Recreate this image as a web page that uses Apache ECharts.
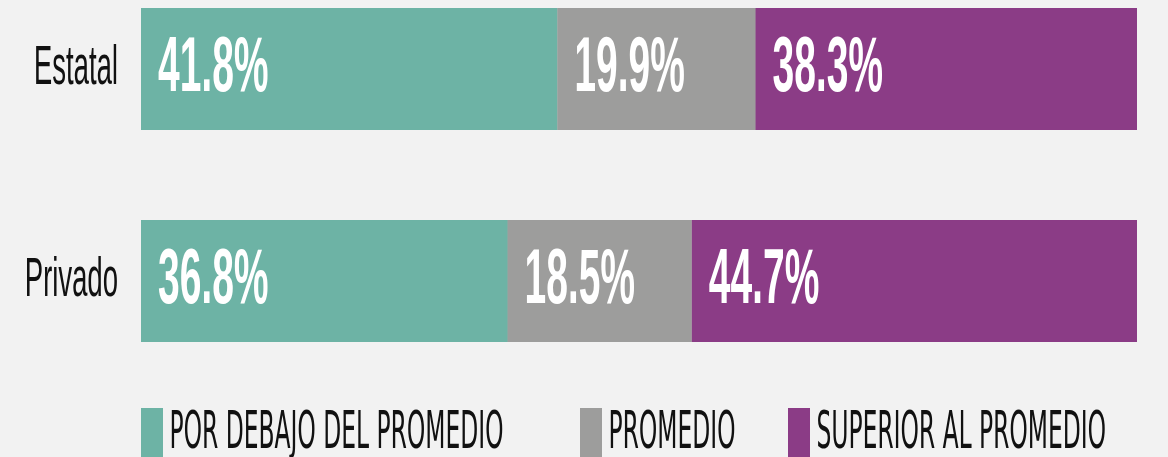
<!DOCTYPE html>
<html>
<head>
<meta charset="utf-8">
<script src="https://cdn.jsdelivr.net/npm/echarts@6/dist/echarts.min.js"></script>
<style>
  html, body { margin: 0; padding: 0; background: #f2f2f2; overflow: hidden; }
  /* la tipografía del original es muy condensada: se dibuja al doble de ancho y se comprime */
  #main { width: 2336px; height: 457px; transform: scaleX(0.5); transform-origin: 0 0; }
</style>
</head>
<body>
<div id="main"></div>
<script>
// Datos del gráfico
var categorias = ['Estatal', 'Privado'];
var series = ['POR DEBAJO DEL PROMEDIO', 'PROMEDIO', 'SUPERIOR AL PROMEDIO'];
var debajo = [41.8, 36.8];
var promedio = [19.9, 18.5];
var superior = [38.3, 44.7];

var colores = ['#6db3a5', '#9d9d9c', '#8b3c86'];
var valores = [debajo, promedio, superior];
var legendaLeft = [282, 1160, 1576];

var chart = echarts.init(document.getElementById('main'));

var option = {
  backgroundColor: '#f2f2f2',
  animation: false,
  // las categorías caen en los bordes del grid (boundaryGap false)
  grid: { left: 282, right: 62, top: 69, height: 212 },
  xAxis: { type: 'value', min: 0, max: 100, show: false },
  yAxis: {
    type: 'category',
    inverse: true,
    boundaryGap: false,
    data: categorias,
    axisLine: { show: false },
    axisTick: { show: false },
    splitLine: { show: false },
    axisLabel: {
      color: '#111',
      fontFamily: 'Liberation Sans',
      fontSize: 55,
      margin: 46
    }
  },
  // una leyenda por serie para ubicar cada elemento como en el original
  legend: series.map(function (nombre, i) {
    return {
      data: [nombre],
      left: legendaLeft[i],
      top: 408,
      padding: 0,
      icon: 'rect',
      itemWidth: 44,
      itemHeight: 52,
      selectedMode: false,
      textStyle: {
        color: '#111',
        fontFamily: "'Liberation Sans Narrow', 'DejaVu Sans Condensed', sans-serif",
        fontSize: 52,
        padding: [0, 0, 0, 8]
      }
    };
  }),
  series: series.map(function (nombre, i) {
    return {
      name: nombre,
      type: 'bar',
      stack: 'total',
      barWidth: 122,
      clip: false,
      itemStyle: { color: colores[i] },
      label: {
        show: true,
        position: 'insideLeft',
        distance: 34,
        color: '#fff',
        fontFamily: 'Liberation Sans',
        fontWeight: 'bold',
        fontSize: 78,
        formatter: function (p) { return p.value.toFixed(1) + '%'; }
      },
      data: valores[i]
    };
  })
};

chart.setOption(option);
</script>
</body>
</html>
